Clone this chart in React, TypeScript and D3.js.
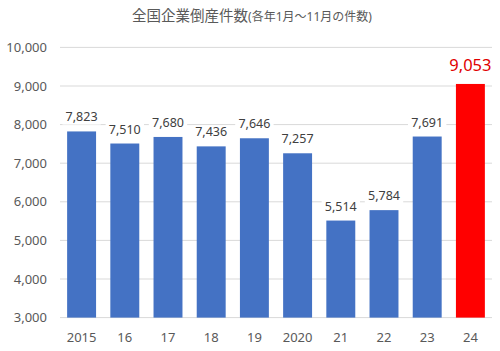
import React from "react";
import * as d3 from "d3";

const categories = ["2015", "16", "17", "18", "19", "2020", "21", "22", "23", "24"];
const values = [7823, 7510, 7680, 7436, 7646, 7257, 5514, 5784, 7691, 9053];
const yTicks = [3000, 4000, 5000, 6000, 7000, 8000, 9000, 10000];

const W = 500, H = 351;
const FONT = "'Segoe UI', 'Noto Sans', 'Noto Sans CJK JP', sans-serif";

export default function App() {
  const x = d3.scaleBand<string>().domain(categories).range([60, 492]).paddingInner(0.33).paddingOuter(0.165);
  const y = d3.scaleLinear().domain([3000, 10000]).range([317.6, 47.4]);
  const fmt = d3.format(",");
  const last = categories.length - 1;
  return (
    <svg width={W} height={H} style={{ position: "absolute", left: 0, top: 0, background: "#fff" }}>
      <rect width={W} height={H} fill="#fff" />
      <text x={252} y={21} textAnchor="middle" fill="#595959" fontFamily={FONT}>
        <tspan fontSize={14.5}>全国企業倒産件数</tspan>
        <tspan fontSize={12}>(各年1月～11月の件数)</tspan>
      </text>
      {yTicks.map((t) => (
        <g key={t}>
          {t > 3000 && <line x1={60} x2={492} y1={y(t)} y2={y(t)} stroke="#d9d9d9" strokeWidth={1} />}
          <text x={47} y={y(t) + 4.5} textAnchor="end" fontSize={13} fill="#595959" fontFamily={FONT}>
            {fmt(t)}
          </text>
        </g>
      ))}
      <line x1={60} x2={492} y1={y(3000)} y2={y(3000)} stroke="#d9d9d9" strokeWidth={1} />
      {categories.map((c, i) => {
        const bx = x(c)!;
        const bw = x.bandwidth();
        const isLast = i === last;
        const label = fmt(values[i]);
        const fs = isLast ? 16.5 : 12.5;
        const ty = y(values[i]) - (isLast ? 13 : 10);
        const tw = label.length * fs * 0.55 + 4;
        return (
          <g key={c}>
            <rect x={bx} y={y(values[i])} width={bw} height={y(3000) - y(values[i])} fill={isLast ? "#ff0000" : "#4472c4"} />
            {!isLast && (
              <rect x={bx + bw / 2 - tw / 2} y={ty - fs * 0.85} width={tw} height={fs * 1.1} fill="#fff" />
            )}
            <text x={bx + bw / 2} y={ty} textAnchor="middle" fontSize={fs} fill={isLast ? "#e00000" : "#404040"} fontFamily={FONT}>
              {label}
            </text>
            <text x={bx + bw / 2} y={342} textAnchor="middle" fontSize={13} fill="#595959" fontFamily={FONT}>
              {c}
            </text>
          </g>
        );
      })}
    </svg>
  );
}
